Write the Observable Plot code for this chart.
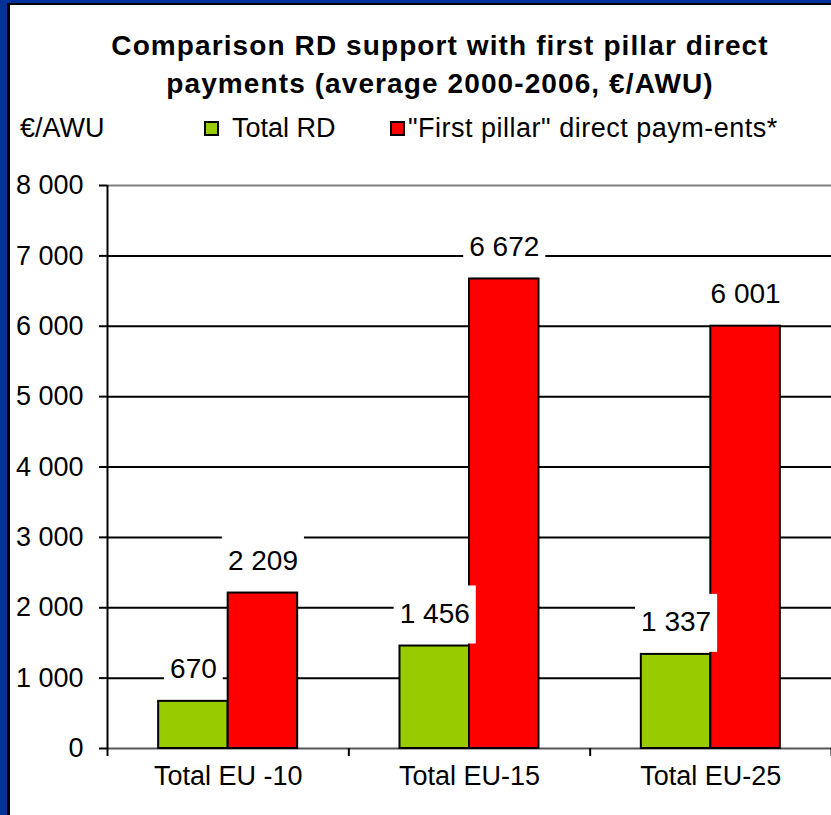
<!DOCTYPE html>
<html><head><meta charset="utf-8">
<script src="https://cdn.jsdelivr.net/npm/d3@7"></script>
<script src="https://cdn.jsdelivr.net/npm/@observablehq/plot@0.6"></script>
<style>
body{margin:0;}
#wrap{position:relative;width:831px;height:815px;background:#003399;overflow:hidden;font-family:"Liberation Sans",Arial,sans-serif;color:#000;}
#panel{position:absolute;left:7px;top:3px;right:0;bottom:0;background:#fff;border-left:3px solid #000;border-top:2px solid #000;}
.title{position:absolute;left:0;width:880px;text-align:center;font-weight:bold;font-size:28px;line-height:30px;letter-spacing:1.1px;white-space:nowrap;}
.leg{position:absolute;font-size:27px;line-height:30px;white-space:nowrap;}
.sw{position:absolute;width:15px;height:15px;box-sizing:border-box;border:2px solid #000;}
#chart{position:absolute;left:0;top:150px;}
</style>
</head><body>
<div id="wrap">
  <div id="panel"></div>
  <div class="title" style="top:31px">Comparison RD support with first pillar direct</div>
  <div class="title" style="top:69px">payments (average 2000-2006, €/AWU)</div>
  <div class="leg" style="left:20px;top:113px">€/AWU</div>
  <div class="sw" id="sw0" style="left:204px;top:121px"></div>
  <div class="leg" id="lg0" style="left:232px;top:113px"></div>
  <div class="sw" id="sw1" style="left:390px;top:121px"></div>
  <div class="leg" id="lg1" style="left:408px;top:113px;letter-spacing:0.5px"></div>
  <div id="chart"></div>
</div>
<script>
const categories = ["Total EU -10", "Total EU-15", "Total EU-25"];
const series = ["Total RD", "\"First pillar\" direct paym-ents*"];
const totalRD = [670, 1456, 1337];
const firstPillar = [2209, 6672, 6001];
const yTicks = [0, 1000, 2000, 3000, 4000, 5000, 6000, 7000, 8000];
const colors = ["#99CC00", "#FF0000"];

document.getElementById("lg0").textContent = series[0];
document.getElementById("lg1").textContent = series[1];
document.getElementById("sw0").style.background = colors[0];
document.getElementById("sw1").style.background = colors[1];

const data = categories.flatMap((c, i) => [
  {cat: c, i, s: 0, v: totalRD[i]},
  {cat: c, i, s: 1, v: firstPillar[i]}
]);
const barW = 0.288;
const fmt = v => d3.format(",")(v).replace(/,/g, " ");

const chart = Plot.plot({
  width: 831, height: 665,
  marginLeft: 107, marginRight: 0, marginTop: 35, marginBottom: 67,
  style: {fontFamily: "'Liberation Sans', Arial, sans-serif", fontSize: "27px", color: "#000", background: "transparent", overflow: "visible"},
  x: {domain: [0, 3]},
  y: {domain: [0, 8000]},
  color: {domain: series, range: colors},
  marks: [
    Plot.ruleY(yTicks.filter(t => t > 0 && t < 8000), {stroke: "#000", strokeWidth: 2}),
    Plot.ruleY([8000], {stroke: "#808080", strokeWidth: 2}),
    Plot.ruleY([0], {stroke: "#555", strokeWidth: 2}),
    Plot.axisY({ticks: yTicks, tickSize: 8, tickPadding: 16, tickFormat: fmt, stroke: "#000", strokeWidth: 2, label: null, fontSize: 27}),
    Plot.axisX({ticks: [0, 1, 2, 3], tickSize: 8, tickFormat: () => "", label: null, stroke: "#000", strokeWidth: 2}),
    Plot.axisX({ticks: categories.map((c, i) => i + 0.5), tickSize: 0, tickPadding: 17, tickFormat: t => categories[Math.floor(t)], label: null, fontSize: 27}),
    Plot.rectY(data, {
      x1: d => d.i + 0.5 - (d.s === 0 ? barW : 0),
      x2: d => d.i + 0.5 + (d.s === 1 ? barW : 0),
      y1: 0, y2: "v",
      fill: d => series[d.s], stroke: "#000", strokeWidth: 2
    }),
    Plot.ruleX([0], {stroke: "#000", strokeWidth: 2}),
    Plot.text(data, {
      x: d => d.i + 0.5 + (d.s === 0 ? -barW / 2 : barW / 2),
      y: "v", text: d => fmt(d.v), dy: -32, fontSize: 28, lineAnchor: "middle", fill: "#000"
    })
  ]
});
document.getElementById("chart").append(chart);

// white boxes behind the data labels (Excel style)
const textG = chart.querySelector('g[aria-label="text"]');
if (textG) {
  const svgRect = chart.getBoundingClientRect();
  const boxes = document.createElementNS("http://www.w3.org/2000/svg", "g");
  textG.querySelectorAll("text").forEach(t => {
    const r = t.getBoundingClientRect();
    const cx = r.left - svgRect.left, cy = r.top - svgRect.top + r.height / 2;
    const rect = document.createElementNS("http://www.w3.org/2000/svg", "rect");
    rect.setAttribute("x", cx - 6);
    rect.setAttribute("y", cy - 28);
    rect.setAttribute("width", r.width + 12);
    rect.setAttribute("height", 58);
    rect.setAttribute("fill", "#fff");
    boxes.append(rect);
  });
  textG.parentNode.insertBefore(boxes, textG);
}
</script>
</body></html>
